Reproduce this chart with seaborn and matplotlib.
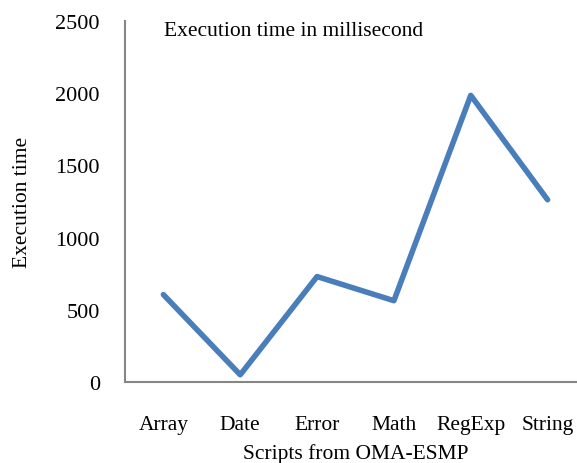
import pandas as pd
import seaborn as sns
import matplotlib.pyplot as plt

scripts = ['Array', 'Date', 'Error', 'Math', 'RegExp', 'String']
exec_ms = [605, 50, 730, 563, 1985, 1262]
yticks = [0, 500, 1000, 1500, 2000, 2500]

data = pd.DataFrame({'script': scripts, 'ms': exec_ms})

sns.set_style('white')
plt.rcParams['font.family'] = ['Liberation Serif', 'DejaVu Serif']
plt.rcParams['text.color'] = 'black'
plt.rcParams['xtick.color'] = 'black'
plt.rcParams['ytick.color'] = 'black'
plt.rcParams['axes.labelcolor'] = 'black'

fig = plt.figure(figsize=(5.77, 4.64), dpi=100)
ax = fig.add_axes([0.2166, 0.1746, 0.799, 0.778])
sns.lineplot(x='script', y='ms', data=data, ax=ax, sort=False,
             color='#4A7EBB', linewidth=4, solid_capstyle='round',
             solid_joinstyle='round')

ax.set_xlim(-0.5, 5.5)
ax.set_ylim(0, 2500)
ax.set_yticks(yticks)
ax.tick_params(axis='x', length=0, labelsize=15.5, pad=24)
ax.tick_params(axis='y', length=0, labelsize=16, pad=18)
for s in ['top', 'right']:
    ax.spines[s].set_visible(False)
for s in ['left', 'bottom']:
    ax.spines[s].set_color('#868686')
    ax.spines[s].set_linewidth(1.5)

ax.set_xlabel('Scripts from OMA-ESMP', fontsize=15.5, labelpad=6)
ax.set_ylabel('Execution time', fontsize=15.5, labelpad=17)
ax.text(0.085, 0.975, 'Execution time in millisecond', transform=ax.transAxes,
        fontsize=15.5, va='center', ha='left')

fig.savefig('out.png', dpi=100)
